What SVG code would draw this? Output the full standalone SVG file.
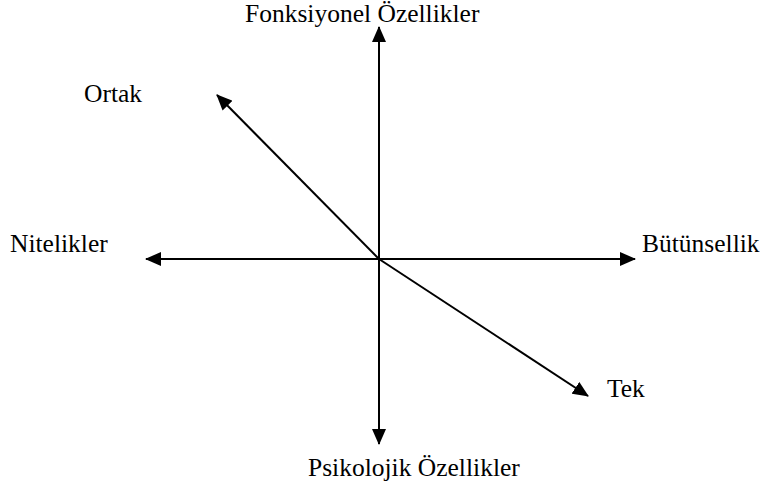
<svg xmlns="http://www.w3.org/2000/svg" width="763" height="486" viewBox="0 0 763 486">
<style>
.t{font-family:'Liberation Serif','Times New Roman',Times,serif;font-size:25.5px;fill:#000}
.ln{stroke:#000;stroke-width:2;fill:none}
</style>
<defs>
<marker id="ah" markerWidth="8" markerHeight="7" refX="7.5" refY="3.5" orient="auto" markerUnits="strokeWidth">
<path d="M0,0 L8,3.5 L0,7 Z" fill="#000"/>
</marker>
</defs>
<rect width="763" height="486" fill="#fff"/>
<g id="connectors">
<line class="ln" x1="379" y1="259" x2="379" y2="27" marker-end="url(#ah)"/>
<line class="ln" x1="379" y1="259" x2="379" y2="444" marker-end="url(#ah)"/>
<line class="ln" x1="379" y1="259" x2="146" y2="259" marker-end="url(#ah)"/>
<line class="ln" x1="379" y1="259" x2="635" y2="259" marker-end="url(#ah)"/>
<line class="ln" x1="379" y1="259" x2="217" y2="95" marker-end="url(#ah)"/>
<line class="ln" x1="379" y1="259" x2="588" y2="396" marker-end="url(#ah)"/>
</g>
<g id="top"><text class="t" x="245" y="22">Fonksiyonel Özellikler</text></g>
<g id="ortak"><text class="t" x="84" y="102">Ortak</text></g>
<g id="nitelikler"><text class="t" x="10" y="252">Nitelikler</text></g>
<g id="butunsellik"><text class="t" x="642" y="252">Bütünsellik</text></g>
<g id="tek"><text class="t" x="607" y="397">Tek</text></g>
<g id="bottom"><text class="t" x="308" y="476">Psikolojik Özellikler</text></g>
</svg>
